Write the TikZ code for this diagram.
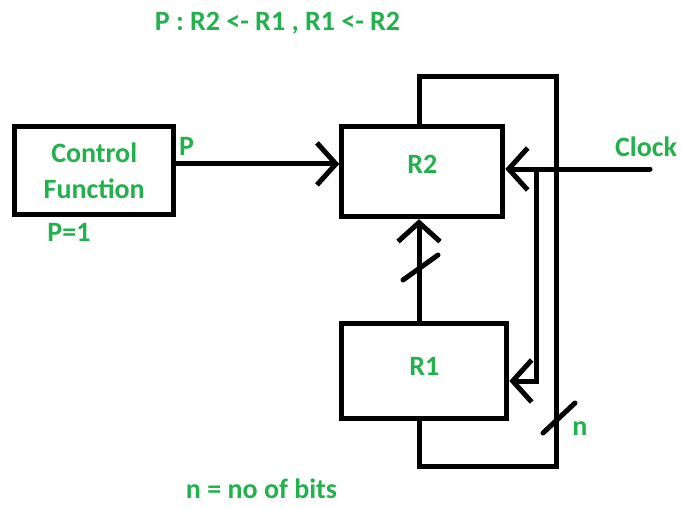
\documentclass[tikz,border=0pt]{standalone}
\usepackage{fontspec}
\setmainfont{Carlito}
\usetikzlibrary{arrows.meta, positioning}
\definecolor{paintgreen}{RGB}{34,177,76}

\begin{document}
\begin{tikzpicture}[x=1pt, y=-1pt, line width=5pt, >={Straight Barb[length=19pt, width=42pt]},
    reg/.style={draw, inner sep=0pt, text=paintgreen, font=\bfseries\fontsize{28}{36}\selectfont, align=center},
    tag/.style={text=paintgreen, font=\bfseries\fontsize{28}{32}\selectfont, anchor=base, inner sep=0pt}]
    \useasboundingbox (0,0) rectangle (682,507);

    % registers and control
    \node[reg, minimum width=159pt, minimum height=88pt] (ctrl) at (94.2,170.9) {Control\\Function};
    \node[reg, minimum width=161pt, minimum height=90pt, text depth=14pt] (r2) at (422.3,171.7) {R2};
    \node[reg, minimum width=165pt, minimum height=95pt, text depth=9pt] (r1) at (424.3,371) {R1};

    \coordinate (bus) at (419,0);
    \coordinate (loopTop) at (556.5,76);
    \coordinate (loopBot) at (556.5,466);
    \coordinate (clk) at (650,169);
    \coordinate (tap) at (536,169);
    \coordinate (tapEnd) at (536,381);
    \coordinate (pOut) at ([yshift=7pt]ctrl.east);
    \coordinate (busTick) at (420.5,267.5);
    \coordinate (loopTick) at (559,418);

    \draw[->] (pOut) -- (pOut -| r2.west);
    \draw[->, line cap=round] (clk) -- (clk -| r2.east);
    \draw[->] (tap) |- (r1.east |- tapEnd);
    \draw[->] (r1.north -| bus) -- (r2.south -| bus);
    \draw (r2.north -| bus) |- (loopTop) -- (loopBot) -| (r1.south -| bus);

    % n-bit marks
    \draw[line cap=round] ([shift={(-17.5,12.5)}]busTick) -- ([shift={(17.5,-12.5)}]busTick);
    \draw[line cap=round] ([shift={(-16,15)}]loopTick) -- ([shift={(16,-15)}]loopTick);

    \node[tag] (title) at (277.5,30) {P : R2 <- R1 , R1 <- R2};
    \node[tag] (pName) at (186.5,155) {P};
    \node[tag] (pOne) at (69,241.7) {P=1};
    \node[tag] (clock) at (646,156.7) {Clock};
    \node[tag] (nName) at (580,435) {n};
    \node[tag] (bits) at (261.5,498.5) {n = no of bits};
\end{tikzpicture}
\end{document}
